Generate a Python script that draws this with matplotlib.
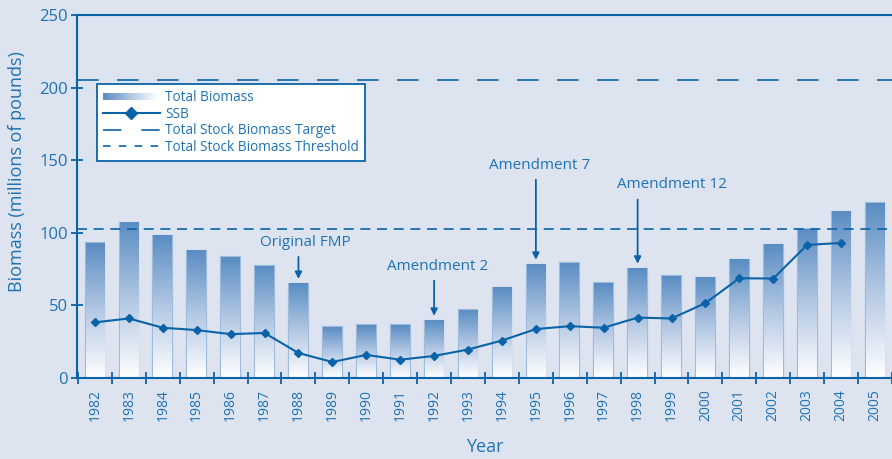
import matplotlib.pyplot as plt
import numpy as np
from matplotlib.colors import LinearSegmentedColormap
from matplotlib.legend_handler import HandlerBase
from matplotlib.patches import Rectangle
from matplotlib.lines import Line2D

plt.rcParams['font.family'] = ['Open Sans', 'DejaVu Sans']

years = list(range(1982, 2006))
total_biomass = [92.7, 107, 98, 87.5, 83.3, 77, 64.8, 34.8, 36.5, 36.5, 39.4, 46.5,
                 62, 78, 78.9, 65.4, 75.3, 70, 69.2, 81.5, 91.7, 102.6, 114.5, 120.5]
ssb = [38.3, 41, 34.6, 33, 30.2, 31, 17.2, 11, 15.9, 12.6, 15.2, 19.6,
       25.8, 33.7, 35.7, 34.6, 41.6, 41, 51.6, 68.7, 68.5, 91.7, 93]
biomass_target = 205.5
biomass_threshold = 102.6
notes = [("Original FMP", 1988), ("Amendment 2", 1992), ("Amendment 7", 1995), ("Amendment 12", 1998)]

bg = '#dde4ef'
blue = '#0a63a8'
txt = '#1f72b4'
cmap = LinearSegmentedColormap.from_list('bio', ['#ffffff', '#b3c8e3', '#5a8dc3'])


class GradientHandler(HandlerBase):
    def create_artists(self, legend, orig_handle, xdescent, ydescent, width, height, fontsize, trans):
        n = 30
        arts = []
        for k in range(n):
            c = cmap(1 - k / (n - 1))
            r = Rectangle((-xdescent + width * k / n, -ydescent + height * 0.15), width / n + 0.3, height * 0.7,
                          facecolor=c, edgecolor='none', transform=trans)
            arts.append(r)
        return arts


fig = plt.figure(figsize=(8.92, 4.59), dpi=100, facecolor=bg)
ax = fig.add_axes([0.0863, 0.1765, 0.9137, 0.7908])
ax.set_facecolor(bg)

x = np.arange(len(years))
bw = 0.55
grad = np.linspace(0, 1, 256).reshape(-1, 1)
for i, v in enumerate(total_biomass):
    ax.add_patch(Rectangle((i - bw / 2, 0), bw, v, facecolor='none', edgecolor='#9dbbdd', lw=1.6, zorder=1.9))
    ax.imshow(grad, cmap=cmap, aspect='auto', origin='lower',
              extent=(i - bw / 2, i + bw / 2, 0, v), zorder=2)

ax.plot(x[:len(ssb)], ssb, color=blue, lw=1.5, marker='D', ms=4.5, zorder=4)
ax.axhline(biomass_target, color=blue, lw=1.2, dashes=(13, 11), zorder=1)
ax.axhline(biomass_threshold, color=blue, lw=1.2, dashes=(6, 4), zorder=3)

# annotations with arrows
offsets = {"Original FMP": (0.2, 22), "Amendment 2": (0.1, 31), "Amendment 7": (0.1, 62), "Amendment 12": (1.0, 51)}
for label, yr in notes:
    i = years.index(yr)
    top = total_biomass[i] + 1.5
    dx, dy = offsets[label]
    ax.annotate('', xy=(i, top), xytext=(i, top + dy - 3),
                arrowprops=dict(arrowstyle='-|>', color=blue, lw=1.3, mutation_scale=10), zorder=5)
    ax.text(i + dx, top + dy, label, color=txt, fontsize=11, ha='center', va='bottom', zorder=5)

ax.set_xlim(-0.53, 23.4)
ax.set_ylim(0, 250)
ax.set_yticks([0, 50, 100, 150, 200, 250])
ax.set_xticks(x)
ax.set_xticklabels([str(y) for y in years], rotation=90)
ax.set_xticks(np.arange(-0.5, 23.6, 1), minor=True)
ax.tick_params(axis='x', which='major', length=0, pad=8, labelsize=10, colors=txt)
ax.tick_params(axis='x', which='minor', length=9, width=1.3, direction='inout', color=blue)
ax.tick_params(axis='y', length=9, width=1.3, direction='inout', color=blue, labelsize=12, labelcolor=txt, pad=2)

for s in ['left', 'bottom', 'top']:
    ax.spines[s].set_color(blue)
    ax.spines[s].set_linewidth(1.5)
ax.spines['right'].set_visible(False)

ax.set_ylabel('Biomass (millions of pounds)', color=txt, fontsize=13)
ax.yaxis.set_label_coords(-0.063, 0.57)
ax.set_xlabel('Year', color=txt, fontsize=13, labelpad=12)

h_bio = Rectangle((0, 0), 1, 1)
h_ssb = Line2D([], [], color=blue, lw=1.5, marker='D', ms=6)
h_tgt = Line2D([], [], color=blue, lw=1.2, dashes=(11, 12))
h_thr = Line2D([], [], color=blue, lw=1.2, dashes=(4.5, 5))
leg = ax.legend([h_bio, h_ssb, h_tgt, h_thr],
                ['Total Biomass', 'SSB', 'Total Stock Biomass Target', 'Total Stock Biomass Threshold'],
                handler_map={Rectangle: GradientHandler()},
                loc='upper left', bbox_to_anchor=(0.024, 0.81), borderaxespad=0, fancybox=False, framealpha=1,
                edgecolor=blue, fontsize=9.8, labelcolor=txt, handlelength=4.2, handletextpad=0.4,
                labelspacing=0.12, borderpad=0.45)
leg.get_frame().set_linewidth(1.3)

fig.savefig('out.png', dpi=100, facecolor=bg)
